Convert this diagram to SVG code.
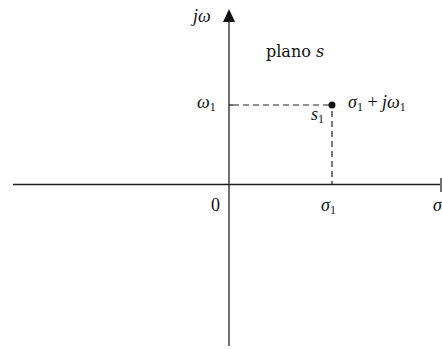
<svg xmlns="http://www.w3.org/2000/svg" width="442" height="349" viewBox="0 0 442 349">
<style>
.t{font-family:"Liberation Serif","DejaVu Serif",serif;font-size:18px;fill:#111}
.i{font-style:italic}
.s{font-size:12px;font-style:normal}
.p{font-family:"DejaVu Serif","Liberation Serif",serif;font-size:16px;fill:#111}
.ax{stroke:#222;stroke-width:1.3;fill:none}
.dash{stroke:#222;stroke-width:1.2;stroke-dasharray:6,4;fill:none}
</style>
<rect width="442" height="349" fill="#fff"/>
<g id="connectors">
<line class="ax" x1="13" y1="184.5" x2="440" y2="184.5"/>
<line class="ax" x1="441" y1="178" x2="441" y2="192"/>
<line class="ax" x1="229" y1="20" x2="229" y2="346"/>
<polygon points="229,9 223,22 235,22" fill="#111"/>
<line class="ax" x1="229" y1="105" x2="233" y2="105"/>
<line class="dash" x1="233" y1="105" x2="330" y2="105"/>
<line class="dash" x1="332" y1="111" x2="332" y2="184"/>
</g>
<g id="point">
<circle cx="332" cy="105" r="3.5" fill="#111"/>
</g>
<g id="labels">
<text class="t i" x="193" y="22">jω</text>
<text class="p" x="266" y="57">plano <tspan font-style="italic">s</tspan></text>
<text class="t i" x="197" y="108">ω<tspan class="s" dy="3">1</tspan></text>
<text class="t i" x="348" y="108">σ<tspan class="s" dy="3">1</tspan><tspan dy="-3" font-style="normal"> + </tspan>jω<tspan class="s" dy="3">1</tspan></text>
<text class="t i" x="311" y="120">s<tspan class="s" dy="3">1</tspan></text>
<text class="t" x="211" y="211">0</text>
<text class="t i" x="321" y="211">σ<tspan class="s" dy="3">1</tspan></text>
<text class="t i" x="433" y="211">σ</text>
</g>
</svg>
